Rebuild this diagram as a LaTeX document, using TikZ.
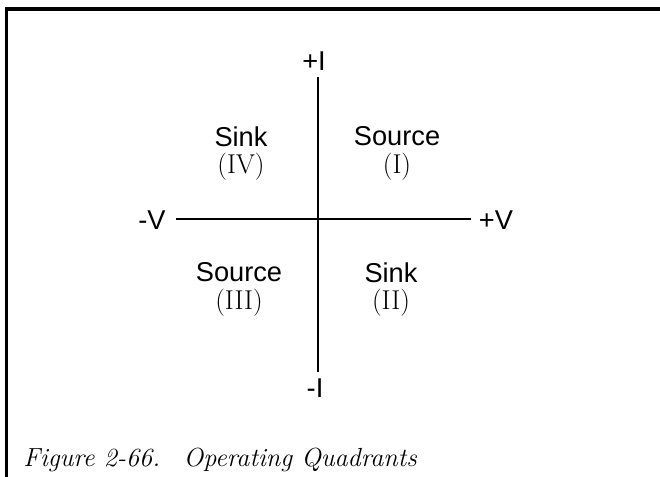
\documentclass[tikz,border=0pt]{standalone}
\usepackage{fontspec}
\setsansfont{Liberation Sans}
\usepackage{tikz}
\usetikzlibrary{positioning}

\begin{document}
\begin{tikzpicture}[
    axis/.style={line width=1.6pt},
    frame/.style={line width=2pt},
    axlabel/.style={font=\sffamily\fontsize{15.5}{14}\selectfont, inner sep=0pt},
    quadrant/.style={font=\sffamily\fontsize{15.5}{15.5}\selectfont, align=center, inner sep=0pt},
]
    \useasboundingbox (0,0) rectangle (13.2,9.54);
    % frame and caption
    \draw[frame] (0.13,0) -- (0.13,9.36) -- (13.2,9.36);
    \node[anchor=base west, inner sep=0pt, font=\rmfamily\itshape\fontsize{14.9}{16}\selectfont] (caption) at (0.46,0.20) {Figure 2-66.\hspace{0.9em}Operating Quadrants};
    % axes
    \coordinate (origin) at (6.36,5.16);
    \coordinate (itop) at (6.36,8.00);
    \coordinate (ibot) at (6.36,2.10);
    \coordinate (vleft) at (3.52,5.16);
    \coordinate (vright) at (9.42,5.16);
    \draw[axis] (itop) -- (ibot);
    \draw[axis] (vleft) -- (vright);
    \node[axlabel] (plusI) at (6.28,8.32) {+I};
    \node[axlabel] (minusI) at (6.30,1.78) {-I};
    \node[axlabel] (minusV) at (3.04,5.14) {-V};
    \node[axlabel] (plusV) at (9.92,5.14) {+V};
    % quadrants
    \node[quadrant] (qIV) at (4.82,6.47) {Sink\\\rmfamily(IV)};
    \node[quadrant] (qI) at (7.94,6.47) {Source\\\rmfamily(I)};
    \node[quadrant] (qIII) at (4.78,3.75) {Source\\\rmfamily(III)};
    \node[quadrant] (qII) at (7.82,3.75) {Sink\\\rmfamily(II)};
\end{tikzpicture}
\end{document}
